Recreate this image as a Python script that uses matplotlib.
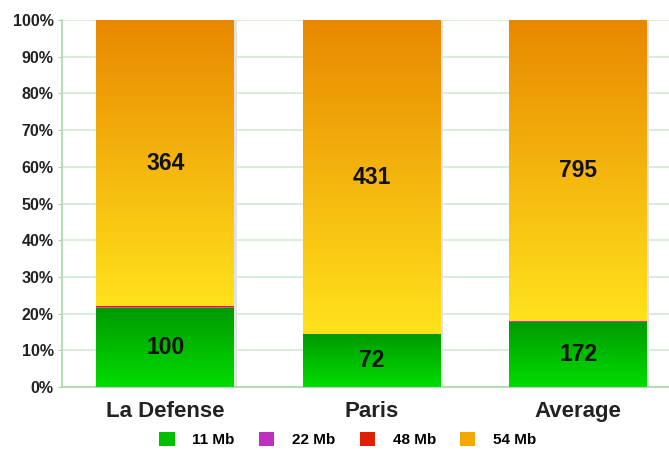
import numpy as np
import matplotlib.pyplot as plt
from matplotlib.colors import LinearSegmentedColormap
from matplotlib.patches import Patch
from matplotlib.ticker import FuncFormatter

plt.rcParams['font.family'] = ['Liberation Sans', 'DejaVu Sans']

# Data
categories = ["La Defense", "Paris", "Average"]
series_names = ["11 Mb", "22 Mb", "48 Mb", "54 Mb"]
mb11 = [100, 72, 172]
mb22 = [2, 0, 2]
mb48 = [1, 0, 1]
mb54 = [364, 431, 795]

# gradient (top colour, bottom colour) for each series
gradients = [
    ("#009a00", "#00dc00"),
    ("#c020c0", "#e050e0"),
    ("#d81e00", "#f03a10"),
    ("#e88800", "#ffe21c"),
]
legend_colors = ["#00c000", "#c030c0", "#e02000", "#f4a800"]

fig = plt.figure(figsize=(6.69, 4.54), dpi=100)
ax = fig.add_axes([62 / 669, 1 - 387 / 454, 1 - 62 / 669, (387 - 20) / 454])

series = [mb11, mb22, mb48, mb54]
totals = np.array(mb11) + np.array(mb22) + np.array(mb48) + np.array(mb54)
x = np.arange(len(categories))
width = 0.667
grad = np.linspace(0, 1, 256).reshape(-1, 1)

for i in range(len(categories)):
    bottom = 0.0
    for s, vals in enumerate(series):
        h = vals[i] / totals[i] * 100
        if h <= 0:
            continue
        cmap = LinearSegmentedColormap.from_list("g", [gradients[s][1], gradients[s][0]])
        # faint shadow on the right
        ax.bar(x[i] + 0.012, h, width, bottom=bottom, color="#e2e2e2", zorder=2)
        ax.imshow(grad, cmap=cmap, aspect="auto", origin="lower",
                  extent=(x[i] - width / 2, x[i] + width / 2, bottom, bottom + h),
                  zorder=3)
        if s in (0, 3):
            ax.text(x[i], bottom + h / 2, str(vals[i]), ha="center", va="center",
                    fontsize=16.5, fontweight="bold", color="#111111", zorder=4)
        bottom += h

ax.set_xlim(-0.5, 2.44)
ax.set_ylim(0, 100)
ax.set_yticks(np.arange(0, 101, 10))
ax.yaxis.set_major_formatter(FuncFormatter(lambda v, p: f"{int(v)}%"))
ax.set_xticks(x)
ax.set_xticklabels(categories, fontsize=16, fontweight="bold", color="#222222")
for lab in ax.get_yticklabels():
    lab.set_fontweight("bold")
    lab.set_fontsize(11.5)
    lab.set_color("#222222")

ax.grid(axis="y", color="#d2ead2", linewidth=1.2, zorder=0)
ax.set_axisbelow(True)
for side in ("top", "right"):
    ax.spines[side].set_visible(False)
for side in ("left", "bottom"):
    ax.spines[side].set_color("#a8d8a8")
    ax.spines[side].set_linewidth(1.2)
ax.tick_params(axis="y", length=3, color="#a8d8a8", pad=3)
ax.tick_params(axis="x", length=0, pad=10)

handles = [Patch(facecolor=c, edgecolor="none") for c in legend_colors]
fig.legend(handles, series_names, loc="center", bbox_to_anchor=(0.52, 0.031),
           ncol=4, frameon=False, prop={"weight": "bold", "size": 11},
           handlelength=1.0, handleheight=1.0, columnspacing=1.6, handletextpad=1.15,
           borderpad=0)

fig.savefig("out.png", dpi=100)
